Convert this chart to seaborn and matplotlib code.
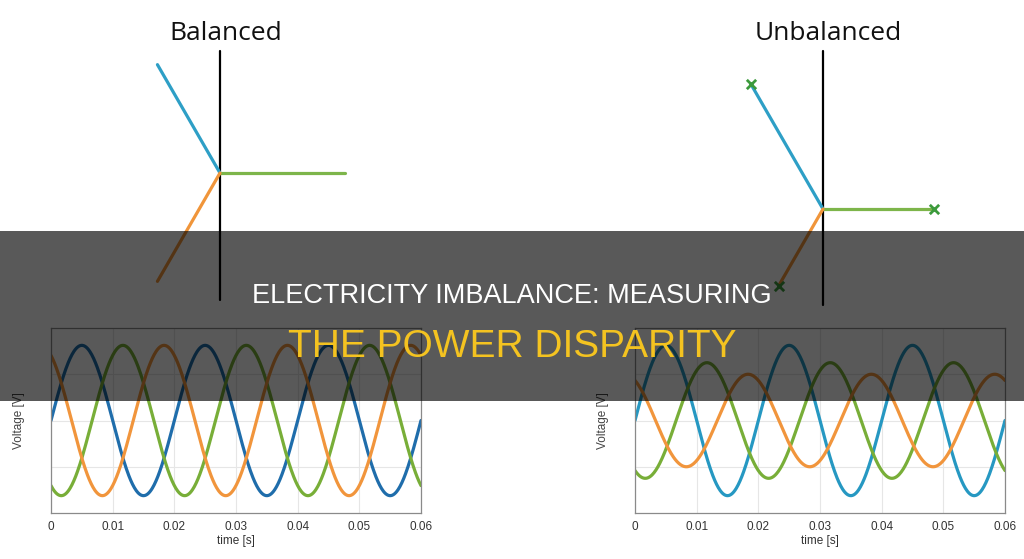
import numpy as np
import pandas as pd
import matplotlib
matplotlib.use("Agg")
import matplotlib.pyplot as plt
import seaborn as sns
from matplotlib.patches import Rectangle

# phases and waveform parameters
phase_names = ['A', 'B', 'C']
freq_hz = 50
t_end = 0.06
balanced_amp = [325, 325, 325]
unbalanced_amp = [325, 250, 200]
phase_shift_deg = [0, -120, 120]
phasor_angle_deg = [120, 0, 240]
x_ticks = [0, 0.01, 0.02, 0.03, 0.04, 0.05, 0.06]
y_ticks = [-200, 0, 200]

wave_colors_left = ['#1f6dab', '#78ae38', '#f1953c']
wave_colors_right = ['#2698c2', '#78ae38', '#f1953c']
phasor_colors = ['#2e9fc6', '#7db54a', '#f0953a']

W, H = 1024, 559


def make_waves(amps):
    t = np.linspace(0, t_end, 600)
    frames = []
    for name, a, ph in zip(phase_names, amps, phase_shift_deg):
        v = a * np.sin(2 * np.pi * freq_hz * t + np.deg2rad(ph))
        frames.append(pd.DataFrame({'t': t, 'v': v, 'phase': name}))
    return pd.concat(frames, ignore_index=True)


def wave_axes(fig, left_px, df, colors):
    ax = fig.add_axes([left_px / W, 1 - 513 / H, 370 / W, 185 / H])
    sns.lineplot(data=df, x='t', y='v', hue='phase', palette=colors,
                 linewidth=2.3, legend=False, ax=ax)
    ax.set_xlim(0, t_end)
    ax.set_ylim(-400, 400)
    ax.set_xticks(x_ticks)
    ax.set_xticklabels(['0' if x == 0 else f'{x:.2f}' for x in x_ticks])
    ax.set_yticks(y_ticks)
    ax.set_yticklabels([])
    ax.grid(True, color='#e6e6e6', linewidth=0.8)
    ax.set_axisbelow(True)
    for sp in ax.spines.values():
        sp.set_visible(True)
        sp.set_color('#8a8a8a')
        sp.set_linewidth(0.9)
    ax.tick_params(direction='in', length=3, color='#8a8a8a',
                   labelsize=8.5, labelcolor='#333333')
    ax.tick_params(axis='x', pad=6)
    ax.tick_params(axis='y', pad=2)
    ax.set_xlabel('time [s]', fontsize=8.5, color='#333333', labelpad=1)
    ax.set_ylabel('Voltage [V]', fontsize=8.5, color='#444444', labelpad=17)
    return ax


def phasor_axes(fig, left_px, origin_px, scale, amps, markers, top_px, bot_px):
    ax = fig.add_axes([left_px / W, 0, 512 / W, 1])
    ox, oy = origin_px
    ax.set_xlim(-ox / scale, (512 - ox) / scale)
    ax.set_ylim((oy - H) / scale, oy / scale)
    ax.axis('off')
    ax.axvline(0, ymin=1 - bot_px / H, ymax=1 - top_px / H, color='black', linewidth=1.6)
    tips = pd.DataFrame({
        'x': [a * np.cos(np.deg2rad(d)) for a, d in zip(amps, phasor_angle_deg)],
        'y': [a * np.sin(np.deg2rad(d)) for a, d in zip(amps, phasor_angle_deg)],
    })
    for (_, r), c in zip(tips.iterrows(), phasor_colors):
        ax.plot([0, r.x], [0, r.y], color=c, linewidth=2.3, solid_capstyle='round')
    if markers:
        sns.scatterplot(data=tips, x='x', y='y', marker='x', color='#3c9a3c',
                        s=45, linewidth=2, ax=ax, zorder=5)
    return ax


sns.set_style('white')
plt.rcParams['font.family'] = ['Liberation Sans', 'DejaVu Sans']

fig = plt.figure(figsize=(W / 100, H / 100), dpi=100)
fig.patch.set_facecolor('white')

phasor_axes(fig, 0, (220, 173), 0.385, balanced_amp, False, 51, 300)
phasor_axes(fig, 512, (311, 209), 0.443, unbalanced_amp, True, 51, 305)

wave_axes(fig, 51, make_waves(balanced_amp), wave_colors_left)
wave_axes(fig, 635, make_waves(unbalanced_amp), wave_colors_right)

fig.text(226 / W, 1 - 40 / H, 'Balanced', ha='center', va='baseline',
         fontsize=19, family=['Open Sans', 'DejaVu Sans'], color='#111111')
fig.text(828 / W, 1 - 40 / H, 'Unbalanced', ha='center', va='baseline',
         fontsize=19, family=['Open Sans', 'DejaVu Sans'], color='#111111')

# dark title band across the middle
fig.patches.append(Rectangle((0, 1 - 401 / H), 1, 170 / H, transform=fig.transFigure,
                             facecolor='black', alpha=0.65, edgecolor='none', zorder=10))
fig.text(0.5, 1 - 303 / H, 'ELECTRICITY IMBALANCE: MEASURING', ha='center', va='baseline',
         fontsize=19.5, color='white', zorder=11)
fig.text(0.5, 1 - 357 / H, 'THE POWER DISPARITY', ha='center', va='baseline',
         fontsize=28, color='#f4c320', zorder=11)

fig.savefig('out.png', dpi=100)
